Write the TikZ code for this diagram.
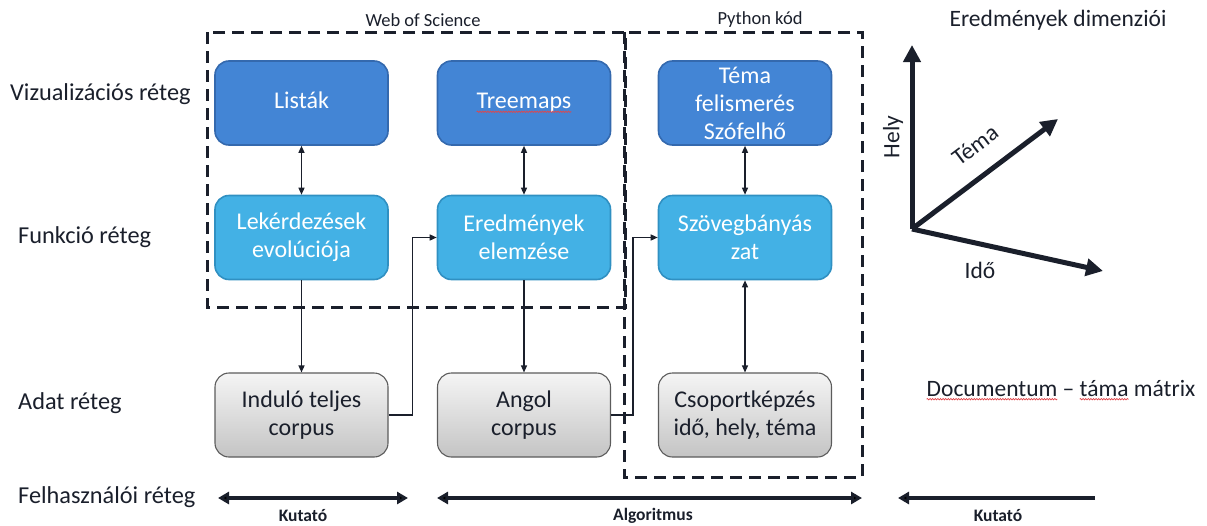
\documentclass[tikz,border=0pt]{standalone}
\usepackage{fontspec}
\setmainfont{Carlito}
\usetikzlibrary{arrows.meta,decorations.pathmorphing}

\definecolor{ink}{HTML}{1A1F2B}
\definecolor{vizfill}{HTML}{4385D5}
\definecolor{vizline}{HTML}{3469AE}
\definecolor{funfill}{HTML}{43B1E5}
\definecolor{funline}{HTML}{3090C2}
\definecolor{datatop}{HTML}{F5F5F5}
\definecolor{databot}{HTML}{C4C4C4}
\definecolor{dataline}{HTML}{5C5C5C}
\definecolor{spell}{HTML}{E0474C}

% word with a wavy spell-check underline
\newcommand\squig[1]{\tikz[baseline=(w.base)]{%
  \node[inner sep=0pt,outer sep=0pt,minimum size=0pt,sharp corners,draw=none,fill=none](w){#1};
  \draw[overlay,spell,line width=0.7pt,sharp corners,solid,-,decorate,
        decoration={snake,amplitude=0.7pt,segment length=2.6pt}]
    ([yshift=-3.2pt]w.base west) -- ([yshift=-3.2pt]w.base east);}}

\tikzset{
  box/.style={rectangle,rounded corners=14pt,minimum width=173pt,minimum height=84pt,
    align=center,inner sep=2pt,font=\fontsize{24}{28}\selectfont},
  viz/.style={box,fill=vizfill,draw=vizline,line width=1.6pt,text=white},
  fun/.style={box,fill=funfill,draw=funline,line width=1.6pt,text=white},
  dat/.style={box,top color=datatop,bottom color=databot,draw=dataline,line width=1.1pt,text=ink},
  conn/.style={draw=ink,line width=1.3pt,-{Triangle[length=7pt,width=6pt]}},
  biconn/.style={draw=ink,line width=1.3pt,{Triangle[length=7pt,width=6pt]}-{Triangle[length=7pt,width=6pt]}},
  frame/.style={draw=ink,line width=3pt,dash pattern=on 12pt off 7pt},
  layer/.style={anchor=west,inner sep=0pt,text=ink,font=\fontsize{24.3}{28}\selectfont},
  title/.style={text=ink,font=\fontsize{18.5}{22}\selectfont},
  bigtext/.style={text=ink,font=\fontsize{23.5}{28}\selectfont},
  axis/.style={draw=ink,line width=5pt,-{Triangle[length=17pt,width=17pt]}},
  role/.style={draw=ink,line width=4pt},
  rolelabel/.style={text=ink,font=\fontsize{17.5}{20}\bfseries\selectfont},
}

\begin{document}
\begin{tikzpicture}[x=1pt,y=-1pt]
\useasboundingbox (0,0) rectangle (1207,525);

% dashed tool frames
\draw[frame] (207,32) rectangle (625,307);
\draw[frame] (624,32) rectangle (862,477);
\node[title] (wos) at (423,20) {Web of Science};
\node[title] (py) at (760,20) {Python kód};

% layer names
\node[layer] (lviz) at (10,94) {Vizualizációs réteg};
\node[layer] (lfun) at (18,237) {Funkció réteg};
\node[layer] (ldat) at (18,403) {Adat réteg};
\node[layer] (lusr) at (18,497) {Felhasználói réteg};

% visualisation layer (struts keep single lines on the same baseline)
\node[viz] (lis) at (301.5,103) {\strut Listák};
\node[viz] (tre) at (524,103) {\strut\squig{Treemaps}};
\node[viz] (tem) at (745,103) {Téma\\felismerés\\Szófelhő};

% function layer
\node[fun] (lek) at (301.5,237.5) {Lekérdezések\\evolúciója};
\node[fun] (ere) at (524,237.5) {Eredmények\\elemzése};
\node[fun] (szo) at (745,237.5) {Szövegbányás\\zat};

% data layer
\node[dat] (ind) at (301.5,415) {Induló teljes\\corpus};
\node[dat] (ang) at (524,415) {Angol\\corpus};
\node[dat] (cso) at (745,415) {Csoportképzés\\idő, hely, téma};

% connectors
\draw[biconn] (lis) -- (lek);
\draw[biconn] (tre) -- (ere);
\draw[biconn] (tem) -- (szo);
\draw[conn] (lek) -- (ind);
\draw[conn] (ere) -- (ang);
\draw[biconn] (szo) -- (cso);
\draw[conn] (ind.east) -- ++(24,0) |- (ere.west);
\draw[conn] (ang.east) -- ++(22,0) |- (szo.west);

% dimensions of the results
\node[bigtext] (dim) at (1058,20) {Eredmények dimenziói};
\coordinate (o) at (912,229);
\coordinate (hely) at (912,45);
\coordinate (tema) at (1058,119);
\coordinate (ido) at (1103,271);
\draw[axis] (o) -- (hely);
\draw[axis] (o) -- (tema);
\draw[axis] (o) -- (ido);
\node[bigtext,rotate=90] (lhely) at (893,137) {Hely};
\node[bigtext,rotate=37] (ltema) at (975,145) {Téma};
\node[bigtext] (lido) at (980,270) {Idő};

\node[bigtext] (mtx) at (1061,388) {\squig{Documentum} – \squig{táma} mátrix};

% user layer: who drives each part
\coordinate (k1a) at (218,498);
\coordinate (k1b) at (408,498);
\coordinate (ala) at (437,498);
\coordinate (alb) at (862,498);
\coordinate (k2a) at (1095,498);
\coordinate (k2b) at (898,498);
\draw[role,{Triangle[length=11pt,width=12pt]}-{Triangle[length=11pt,width=12pt]}] (k1a) -- (k1b);
\draw[role,{Triangle[length=11pt,width=12pt]}-{Triangle[length=11pt,width=12pt]}] (ala) -- (alb);
\draw[role,-{Triangle[length=11pt,width=12pt]}] (k2a) -- (k2b);
\node[rolelabel] (rk1) at (303,516) {Kutató};
\node[rolelabel] (ral) at (653,516) {Algoritmus};
\node[rolelabel] (rk2) at (998,516) {Kutató};
\end{tikzpicture}
\end{document}
